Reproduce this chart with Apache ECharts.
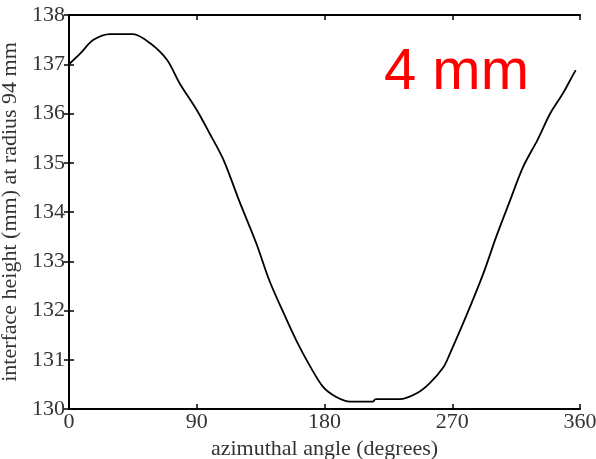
<!DOCTYPE html>
<html>
<head>
<meta charset="utf-8">
<script src="https://cdn.jsdelivr.net/npm/echarts@6/dist/echarts.min.js"></script>
<style>html,body{margin:0;padding:0;background:#fff;}#c{width:596px;height:459px;}</style>
</head>
<body>
<div id="c"></div>
<script>
const xTicks = [0, 90, 180, 270, 360];
const yTicks = [130, 131, 132, 133, 134, 135, 136, 137, 138];
const angles = [0, 8, 17, 29, 45, 57, 69, 78, 90, 99, 109, 120, 132, 141, 151, 160, 170, 179, 188, 198, 214, 216, 233, 245, 254, 264, 268, 280, 292, 301, 310, 320, 330, 339, 348, 355, 357];
const heights = [137.0, 137.22, 137.49, 137.61, 137.61, 137.43, 137.09, 136.61, 136.07, 135.6, 135.05, 134.22, 133.36, 132.62, 131.96, 131.40, 130.86, 130.45, 130.25, 130.15, 130.15, 130.2, 130.2, 130.32, 130.52, 130.86, 131.1, 131.9, 132.76, 133.5, 134.18, 134.92, 135.46, 136.0, 136.41, 136.78, 136.88];
const xName = 'azimuthal angle (degrees)';
const yName = 'interface height (mm) at radius 94 mm';
const note = '4 mm';

const chart = echarts.init(document.getElementById('c'));
const serif = 'Liberation Serif';
const axisCommon = {
  type: 'value',
  axisLine: { show: true, lineStyle: { color: '#000', width: 2 } },
  axisTick: { show: true, inside: true, length: 5, lineStyle: { color: '#000', width: 1.5 } },
  splitLine: { show: false }
};
chart.setOption({
  animation: false,
  grid: { left: 69, right: 16, top: 15, bottom: 50, containLabel: false, outerBoundsMode: 'none' },
  xAxis: [
    Object.assign({}, axisCommon, {
      min: xTicks[0], max: xTicks[xTicks.length - 1], interval: 90, position: 'bottom',
      name: xName, nameLocation: 'middle', nameGap: 28,
      nameTextStyle: { fontFamily: serif, fontSize: 22, color: '#333' },
      axisLabel: { fontFamily: serif, fontSize: 22, color: '#333', margin: 2 }
    }),
    Object.assign({}, axisCommon, {
      min: xTicks[0], max: xTicks[xTicks.length - 1], interval: 90, position: 'top',
      axisLabel: { show: false }
    })
  ],
  yAxis: [
    Object.assign({}, axisCommon, {
      min: yTicks[0], max: yTicks[yTicks.length - 1], interval: 1, position: 'left',
      name: yName, nameLocation: 'middle', nameGap: 38,
      nameTextStyle: { fontFamily: serif, fontSize: 22, color: '#333' },
      axisLabel: { fontFamily: serif, fontSize: 22, color: '#333', margin: 4 }
    }),
    Object.assign({}, axisCommon, {
      min: yTicks[0], max: yTicks[yTicks.length - 1], interval: 1, position: 'right',
      axisLabel: { show: false }
    })
  ],
  series: [{
    type: 'line',
    data: angles.map((a, i) => [a, heights[i]]),
    showSymbol: false,
    smooth: 0.3,
    lineStyle: { color: '#000', width: 1.8 }
  }],
  graphic: [{
    type: 'text',
    left: 384, top: 44,
    style: { text: note, fill: '#ff0000', font: '58px "Liberation Sans"' }
  }]
});
</script>
</body>
</html>
